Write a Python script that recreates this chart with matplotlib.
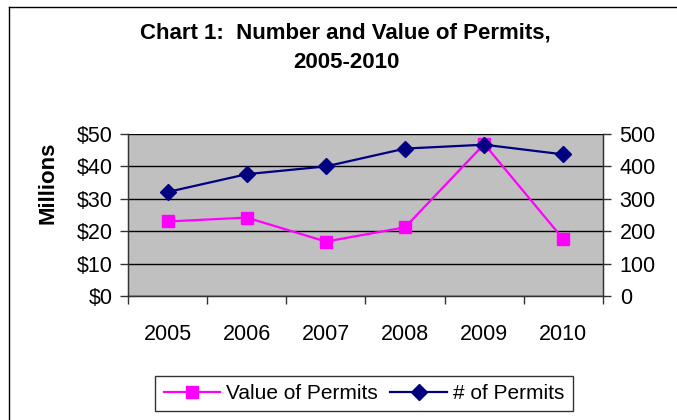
import matplotlib.pyplot as plt
import numpy as np
from matplotlib.lines import Line2D

plt.rcParams['font.family'] = ['Liberation Sans', 'DejaVu Sans']

# data
years = ['2005', '2006', '2007', '2008', '2009', '2010']
value_millions = [23.0, 24.2, 16.8, 21.2, 46.9, 17.5]
num_permits = [321, 376, 400, 455, 467, 437]

W, H = 677, 420
fig = plt.figure(figsize=(W / 100, H / 100), dpi=100)
fig.patch.set_facecolor('white')

# outer chart frame (only top/left visible in the original)
fig.add_artist(Line2D([9 / W, 1.0], [1 - 7 / H, 1 - 7 / H], color='black', lw=1.0))
fig.add_artist(Line2D([9 / W, 9 / W], [0.0, 1 - 7 / H], color='black', lw=1.0))

ax = fig.add_axes([128 / W, 1 - 296 / H, (603 - 128) / W, (296 - 134) / H])
ax.set_facecolor('#C0C0C0')
x = np.arange(len(years))

ax.plot(x, value_millions, color='#FF00FF', lw=1.6, marker='s', markersize=8.5,
        markerfacecolor='#FF00FF', markeredgecolor='#FF00FF', label='Value of Permits', zorder=3)
ax.set_ylim(0, 50)
ax.set_yticks(range(0, 51, 10))
ax.set_yticklabels(['$%d' % v for v in range(0, 51, 10)])
ax.set_xlim(-0.5, len(years) - 0.5)
ax.set_xticks(x)
ax.set_xticklabels(years)
ax.set_xticks(np.arange(-0.5, len(years)), minor=True)
ax.tick_params(axis='x', which='major', length=0, pad=20, labelsize=15.5)
ax.tick_params(axis='x', which='minor', length=6, width=1, direction='out', color='#333333')
ax.tick_params(axis='y', length=6, width=1, direction='out', pad=5, labelsize=15.5, color='#333333')
ax.grid(axis='y', color='black', lw=1.0)
ax.set_axisbelow(True)
ax.spines['top'].set_visible(False)
for s in ['left', 'right', 'bottom']:
    ax.spines[s].set_color('#333333')
    ax.spines[s].set_linewidth(1.0)

ax2 = ax.twinx()
ax2.plot(x, num_permits, color='#000080', lw=1.6, marker='D', markersize=8,
         markerfacecolor='#000080', markeredgecolor='#000080', label='# of Permits', zorder=4)
ax2.set_ylim(0, 500)
ax2.set_yticks(range(0, 501, 100))
ax2.tick_params(axis='y', length=6, width=1, direction='out', pad=6, labelsize=15.5, color='#333333')
ax2.spines['top'].set_visible(False)
for s in ['left', 'right', 'bottom']:
    ax2.spines[s].set_color('#333333')

fig.text(48 / W, 1 - 183 / H, 'Millions', rotation=90, ha='center', va='center',
         fontsize=16, fontweight='bold')

fig.text(345 / W, 1 - 33 / H, 'Chart 1:  Number and Value of Permits,', ha='center', va='center',
         fontsize=16, fontweight='bold')
fig.text(346 / W, 1 - 63 / H, '2005-2010', ha='center', va='center',
         fontsize=16, fontweight='bold')

h1, l1 = ax.get_legend_handles_labels()
h2, l2 = ax2.get_legend_handles_labels()
leg = fig.legend(h1 + h2, l1 + l2, loc='center', bbox_to_anchor=(364 / W, 1 - 393.5 / H),
                 ncol=2, frameon=True, fancybox=False, shadow=False, fontsize=15,
                 handlelength=2.7, handletextpad=0.3, columnspacing=0.6, borderpad=0.4,
                 borderaxespad=0)
leg.get_frame().set_edgecolor('black')
leg.get_frame().set_linewidth(1.0)

fig.savefig('out.png', dpi=100)
